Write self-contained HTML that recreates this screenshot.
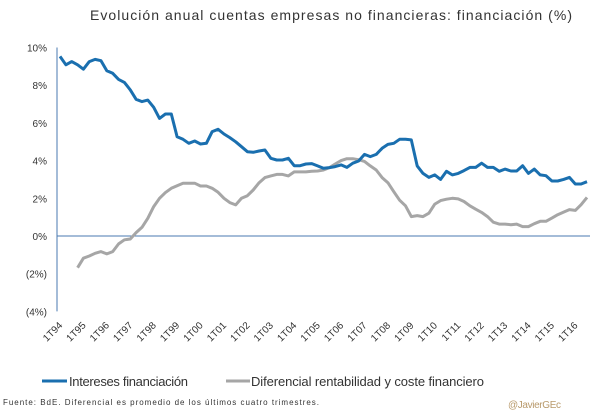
<!DOCTYPE html>
<html><head><meta charset="utf-8"><style>
body{margin:0;background:#fff;}
svg{display:block;font-family:"Liberation Sans",sans-serif;}
</style></head><body>
<svg id="chart" width="605" height="416" viewBox="0 0 605 416" xmlns="http://www.w3.org/2000/svg">
<text x="90" y="20" font-size="14" fill="#333" textLength="482">Evolución anual cuentas empresas no financieras: financiación (%)</text>
<g id="yaxis"></g>
<g id="xaxis"></g>
<g id="series"></g>
<g>
<line x1="42" y1="381" x2="67" y2="381" stroke="#1a6faf" stroke-width="3"/>
<text x="69" y="386" font-size="13" fill="#333" textLength="119">Intereses financiación</text>
<line x1="226" y1="381" x2="250" y2="381" stroke="#a6a6a6" stroke-width="3"/>
<text x="251" y="386" font-size="13" fill="#333" textLength="233">Diferencial rentabilidad y coste financiero</text>
</g>
<text x="3" y="405" font-size="8" fill="#333" textLength="316">Fuente: BdE. Diferencial es promedio de los últimos cuatro trimestres.</text>
<text x="508" y="408" font-size="10" fill="#b8996a" textLength="53">@JavierGEc</text>
</svg>
<script>
const yTicks=[10,8,6,4,2,0,-2,-4];
const yTickLabels=["10%","8%","6%","4%","2%","0%","(2%)","(4%)"];
const yearLabels=["1T94","1T95","1T96","1T97","1T98","1T99","1T00","1T01","1T02","1T03","1T04","1T05","1T06","1T07","1T08","1T09","1T10","1T11","1T12","1T13","1T14","1T15","1T16"];
const intereses=[9.53,9.08,9.25,9.08,8.85,9.25,9.37,9.3,8.77,8.63,8.31,8.15,7.75,7.25,7.13,7.21,6.83,6.24,6.47,6.47,5.27,5.13,4.92,5.04,4.88,4.92,5.54,5.66,5.41,5.22,5.0,4.74,4.47,4.44,4.51,4.56,4.12,4.03,4.03,4.12,3.73,3.73,3.82,
3.84,3.72,3.59,3.63,3.68,3.77,3.64,3.86,3.98,4.33,4.21,4.33,4.65,4.86,4.92,5.13,5.13,5.1,3.72,3.32,3.11,3.24,3.0,3.43,3.24,3.32,3.47,3.64,3.64,3.86,3.64,3.64,3.43,3.55,3.45,3.45,3.73,3.32,3.55,3.24,3.2,2.92,2.92,3.0,3.11,2.76,2.76,2.88];
const diferencial=[null,null,null,-1.68,-1.18,-1.06,-0.92,-0.83,-0.95,-0.83,-0.42,-0.2,-0.16,0.18,0.46,0.94,1.56,2.0,2.3,2.53,2.67,2.8,2.8,2.8,2.65,2.65,2.53,2.32,2.0,1.77,1.65,2.0,2.14,2.44,2.83,3.1,3.19,3.27,3.27,3.19,3.4,3.4,3.4,
3.43,3.45,3.5,3.63,3.82,4.0,4.1,4.1,4.05,3.96,3.72,3.5,3.1,2.83,2.35,1.9,1.6,1.03,1.08,1.03,1.21,1.69,1.88,1.95,2.0,1.97,1.83,1.6,1.42,1.25,1.03,0.73,0.63,0.63,0.6,0.63,0.5,0.5,0.65,0.78,0.78,0.95,1.13,1.27,1.4,1.36,1.66,2.05];
const NS="http://www.w3.org/2000/svg";
const X0=60,X1=587,Y0=236,PER=18.85;
const n=intereses.length;
function xs(i){return X0+i*(X1-X0)/(n-1);}
function ys(v){return Y0-v*PER;}
const yaxis=document.getElementById('yaxis'),xaxis=document.getElementById('xaxis'),series=document.getElementById('series');
const ax=document.createElementNS(NS,'line');


ax.setAttribute('x1',57);ax.setAttribute('x2',57);ax.setAttribute('y1',ys(10));ax.setAttribute('y2',ys(-4));
ax.setAttribute('stroke','#4a7ab0');ax.setAttribute('stroke-width','1');yaxis.appendChild(ax);
yTicks.forEach((t,k)=>{const tx=document.createElementNS(NS,'text');


tx.setAttribute('x',47);tx.setAttribute('y',ys(t)+4);tx.setAttribute('text-anchor','end');tx.setAttribute('font-size','10');tx.setAttribute('fill','#333');tx.textContent=yTickLabels[k];yaxis.appendChild(tx);});
const zl=document.createElementNS(NS,'line');


zl.setAttribute('x1',57);zl.setAttribute('x2',X1+3);zl.setAttribute('y1',ys(0));zl.setAttribute('y2',ys(0));zl.setAttribute('stroke','#4a7ab0');zl.setAttribute('stroke-width','1');xaxis.appendChild(zl);
yearLabels.forEach((l,k)=>{const tx=document.createElementNS(NS,'text');


const x=xs(k*4)+3,y=326;
tx.setAttribute('x',x);tx.setAttribute('y',y);tx.setAttribute('text-anchor','end');tx.setAttribute('font-size','10');tx.setAttribute('fill','#333');
tx.setAttribute('transform','rotate(-45 '+x+' '+y+')');tx.textContent=l;xaxis.appendChild(tx);});
function line(data,color,name){let d='';data.forEach((v,i)=>{if(v===null)return;d+=(d?'L':'M')+xs(i).toFixed(1)+' '+ys(v).toFixed(1);});
const p=document.createElementNS(NS,'path');


p.setAttribute('d',d);p.setAttribute('fill','none');p.setAttribute('stroke',color);p.setAttribute('stroke-width','3');p.setAttribute('stroke-linejoin','round');series.appendChild(p);}
line(diferencial,'#a6a6a6','diferencial-line');
line(intereses,'#1a6faf','intereses-line');
</script>
</body></html>
